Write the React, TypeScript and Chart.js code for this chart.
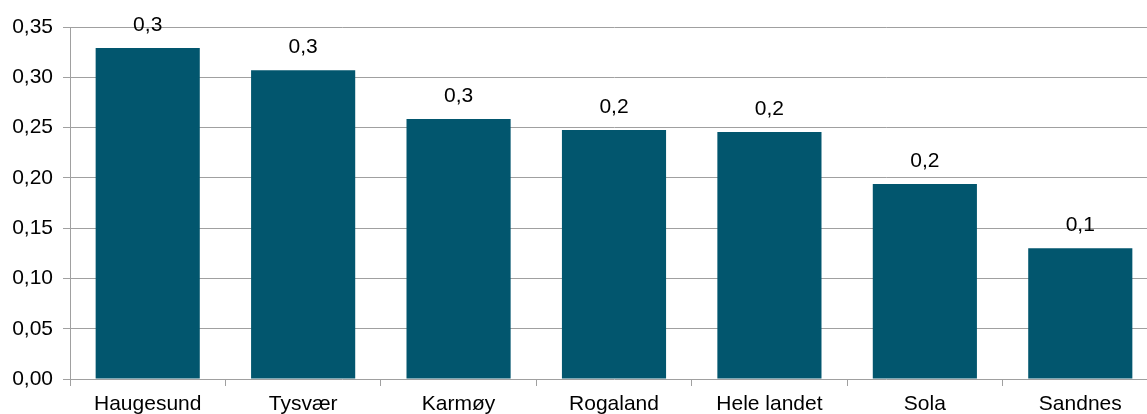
import React, { useEffect, useRef } from "react";
import { Chart, registerables } from "chart.js";

Chart.register(...registerables);

const categories = ["Haugesund", "Tysvær", "Karmøy", "Rogaland", "Hele landet", "Sola", "Sandnes"];
const values = [0.329, 0.307, 0.2585, 0.2476, 0.2456, 0.194, 0.13];
const yTicks = [0, 0.05, 0.1, 0.15, 0.2, 0.25, 0.3, 0.35];

const FONT = "'Liberation Sans', Arial, sans-serif";
const comma = (v: number, d: number) => v.toFixed(d).replace(".", ",");

const labelPlugin = {
  id: "barLabels",
  afterDatasetsDraw(chart: any) {
    const ctx = chart.ctx;
    const meta = chart.getDatasetMeta(0);
    ctx.save();
    ctx.font = `21px ${FONT}`;
    ctx.fillStyle = "#000";
    ctx.textAlign = "center";
    ctx.textBaseline = "middle";
    meta.data.forEach((bar: any, i: number) => {
      ctx.fillText(comma(values[i], 1), bar.x, bar.y - 23);
    });
    ctx.restore();
  },
};

export default function App() {
  const ref = useRef<HTMLCanvasElement>(null);
  useEffect(() => {
    if (!ref.current) return;
    const chart = new Chart(ref.current, {
      type: "bar",
      data: {
        labels: categories,
        datasets: [
          {
            data: values,
            backgroundColor: "#02566e",
            borderWidth: 0,
            barPercentage: 0.67,
            categoryPercentage: 1,
          },
        ],
      },
      options: {
        responsive: false,
        animation: false,
        devicePixelRatio: 1,
        layout: { padding: { top: 27, right: 2, left: 0, bottom: 0 } },
        plugins: { legend: { display: false }, tooltip: { enabled: false } },
        scales: {
          x: {
            offset: true,
            grid: {
              offset: true,
              drawOnChartArea: false,
              drawTicks: true,
              tickLength: 7,
              color: "#a0a0a0",
            },
            border: { display: false },
            ticks: { color: "#000", font: { family: FONT, size: 21 }, padding: 6, maxRotation: 0, autoSkip: false },
            afterFit: (s: any) => {
              s.height = 35;
            },
          },
          y: {
            min: 0,
            max: 0.35,
            afterBuildTicks: (s: any) => {
              s.ticks = yTicks.map((v) => ({ value: v }));
            },
            grid: { color: "#a0a0a0", tickLength: 7, lineWidth: 1 },
            border: { display: true, color: "#a0a0a0" },
            ticks: {
              color: "#000",
              font: { family: FONT, size: 21 },
              padding: 10,
              callback: (v: any) => comma(Number(v), 2),
            },
            afterFit: (s: any) => {
              s.width = 70;
            },
          },
        },
      },
      plugins: [labelPlugin],
    });
    return () => chart.destroy();
  }, []);
  return (
    <div style={{ position: "absolute", left: 0, top: 0, width: 1147, height: 414, overflow: "hidden", background: "#fff" }}>
      <canvas ref={ref} width={1160} height={414} style={{ width: 1160, height: 414, display: "block" }} />
    </div>
  );
}
